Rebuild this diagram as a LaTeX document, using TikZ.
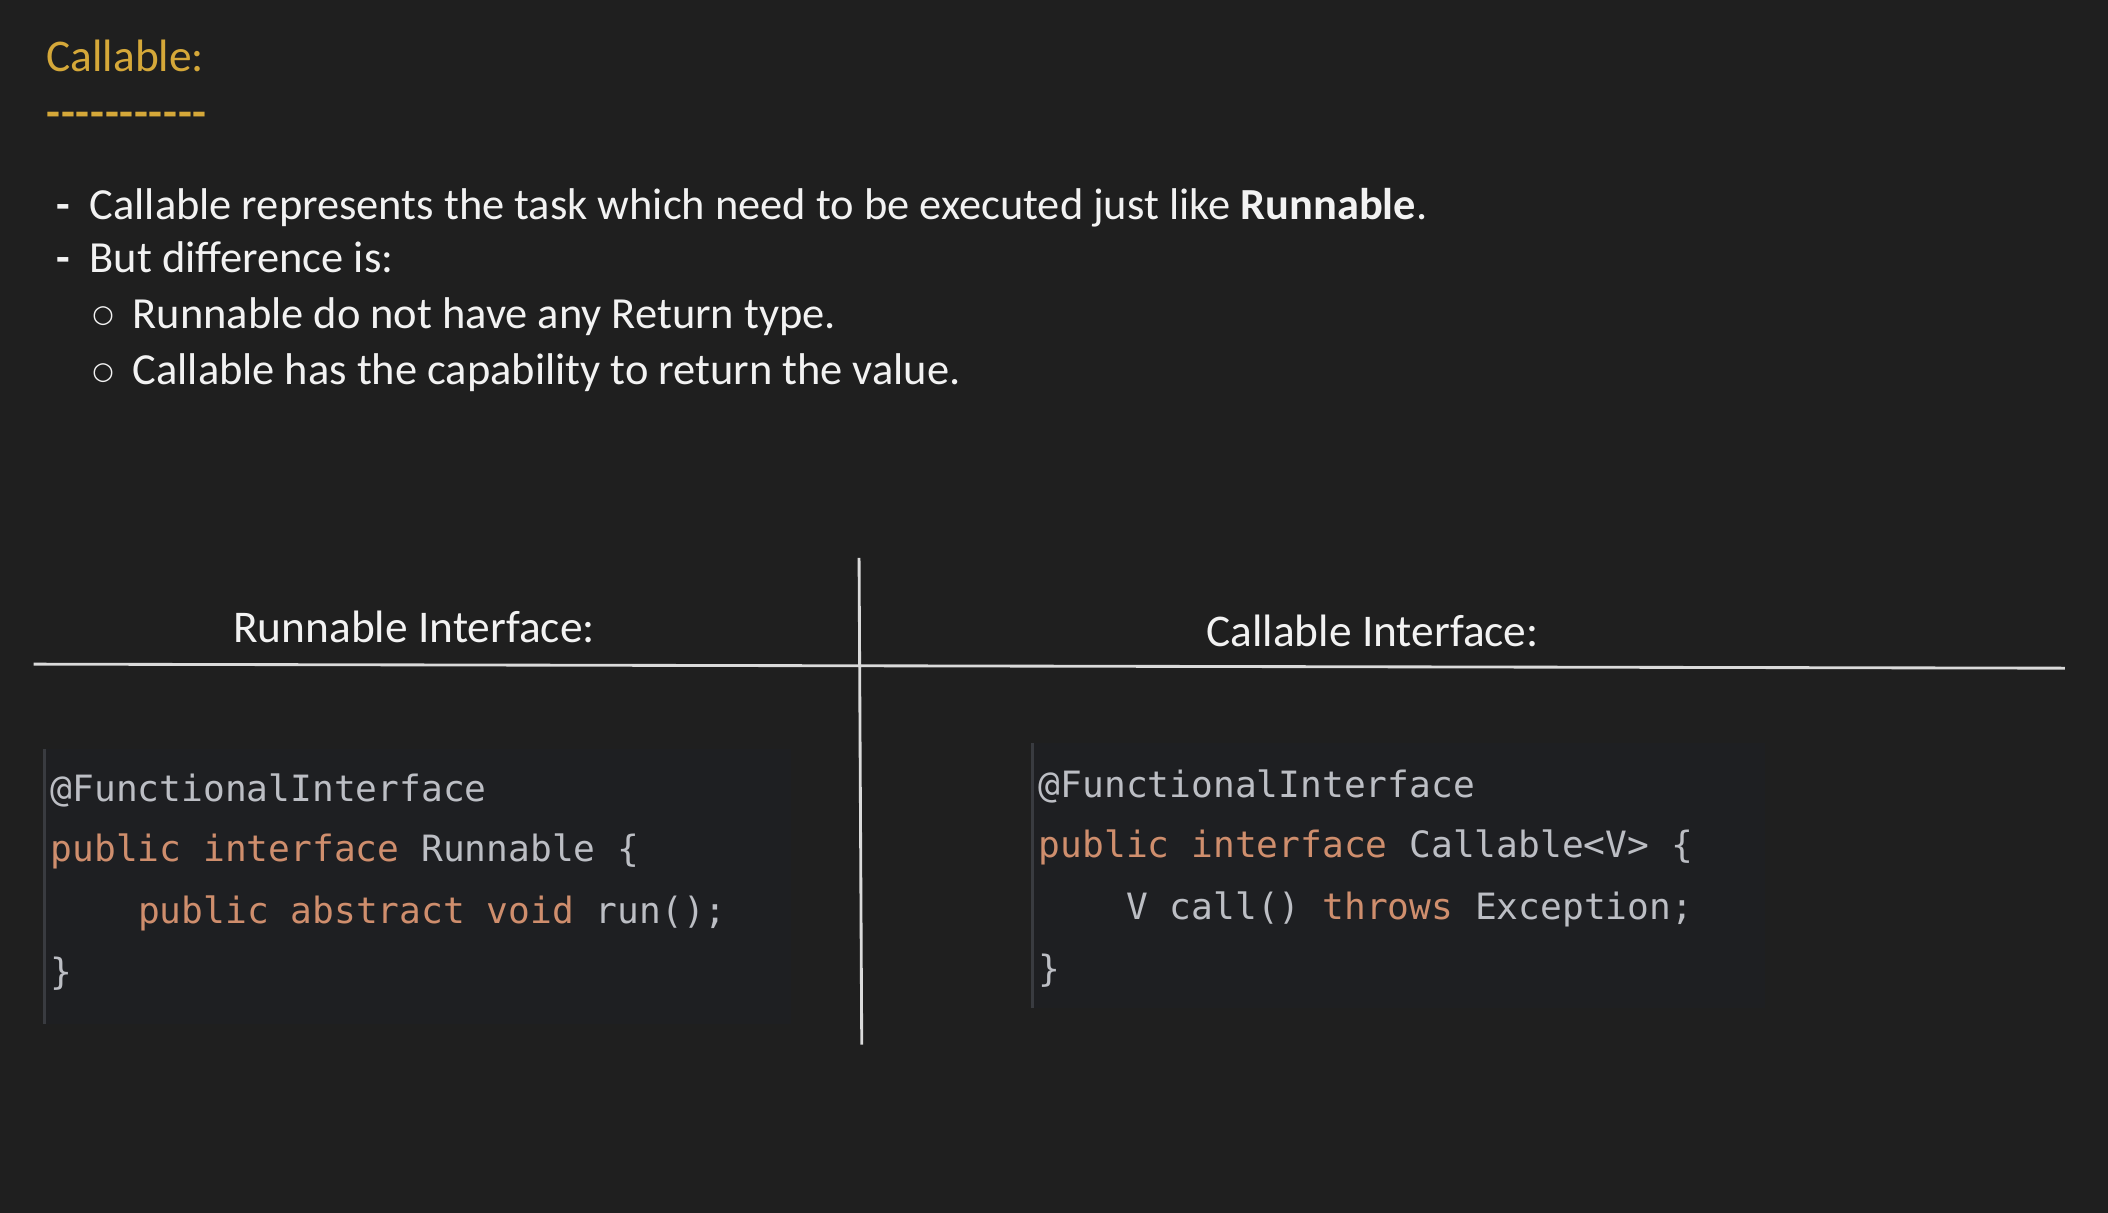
\documentclass[tikz,border=0pt]{standalone}
\usepackage{fontspec}
\setmainfont{Carlito}
\setmonofont{DejaVu Sans Mono}
\newfontfamily\symfont{DejaVu Sans}
\definecolor{bg}{HTML}{1F1F1F}
\definecolor{fg}{HTML}{F2F2F2}
\definecolor{gold}{HTML}{D5A839}
\definecolor{codebg}{HTML}{1E1F22}
\definecolor{codeedge}{HTML}{393B40}
\definecolor{codefg}{HTML}{BCBEC4}
\definecolor{kw}{HTML}{CF8E6D}
\tikzstyle{txt}  = [inner sep=0, anchor=base west, text=fg, font=\fontsize{9.4}{11}\selectfont]
\tikzstyle{head} = [inner sep=0, anchor=base, text=fg, font=\fontsize{9.6}{11}\selectfont]
\tikzstyle{code} = [inner sep=0, anchor=base west, text=codefg, font=\fontsize{7.66}{9}\ttfamily]
\tikzstyle{rule} = [draw=fg!90!black, line width=0.6pt]
\tikzstyle{box}  = [fill=codebg]
\newcommand{\kw}[1]{\textcolor{kw}{#1}}
\newcommand{\dsh}{\textbf{-}\kern0.15pt}

\begin{document}
\begin{tikzpicture}[x=0.01cm, y=-0.01cm]

\fill [bg] (0,0) rectangle (1568,902);
\useasboundingbox (0,0) rectangle (1568,902);

% heading
\node [txt, text=gold, font=\fontsize{9.6}{11}\selectfont] at (34, 53) (title)  {Callable:};
\node [txt, text=gold, font=\fontsize{9.6}{11}\selectfont] at (34, 95) (dashes) {\dsh\dsh\dsh\dsh\dsh\dsh\dsh\dsh\dsh\dsh\dsh};

% bullets
\node [txt] at (41, 163) (b1) {\textbf{-}};
\node [txt] at (66, 163) (t1) {Callable represents the task which need to be executed just like \textbf{Runnable}.};
\node [txt] at (41, 203) (b2) {\textbf{-}};
\node [txt] at (66, 203) (t2) {But difference is:};
\node [txt, font=\fontsize{5.2}{7}\symfont] at (68, 240) (s1) {○};
\node [txt] at (98, 244) (u1) {Runnable do not have any Return type.};
\node [txt, font=\fontsize{5.2}{7}\symfont] at (68, 282) (s2) {○};
\node [txt] at (98, 286) (u2) {Callable has the capability to return the value.};

% table rules
\coordinate (hl) at (25, 494);
\coordinate (hr) at (1536, 497);
\coordinate (vt) at (639, 415);
\coordinate (vb) at (641, 777);
\path [rule] (hl) -- (hr)
             (vt) -- (vb);

\node [head] at (308, 478) (runhead)  {Runnable Interface:};
\node [head] at (1021, 481) (callhead) {Callable Interface:};

% code boxes
\fill [box] (33, 557) rectangle (588, 762);
\draw [codeedge, line width=0.5pt] (33, 557) -- (33, 762);
\fill [box] (768, 553) rectangle (1313, 750);
\draw [codeedge, line width=0.5pt] (768, 553) -- (768, 750);

% runnable code
\node [code] at (37, 596)  (r1) {@FunctionalInterface};
\node [code] at (37, 641)  (r2) {\kw{public interface} Runnable \{};
\node [code] at (102, 687) (r3) {\kw{public abstract void} run();};
\node [code] at (37, 732)  (r4) {\}};

% callable code
\node [code] at (772, 593) (c1) {@FunctionalInterface};
\node [code] at (772, 638) (c2) {\kw{public interface} Callable<V> \{};
\node [code] at (837, 684) (c3) {V call() \kw{throws} Exception;};
\node [code] at (772, 730) (c4) {\}};

\end{tikzpicture}
\end{document}
